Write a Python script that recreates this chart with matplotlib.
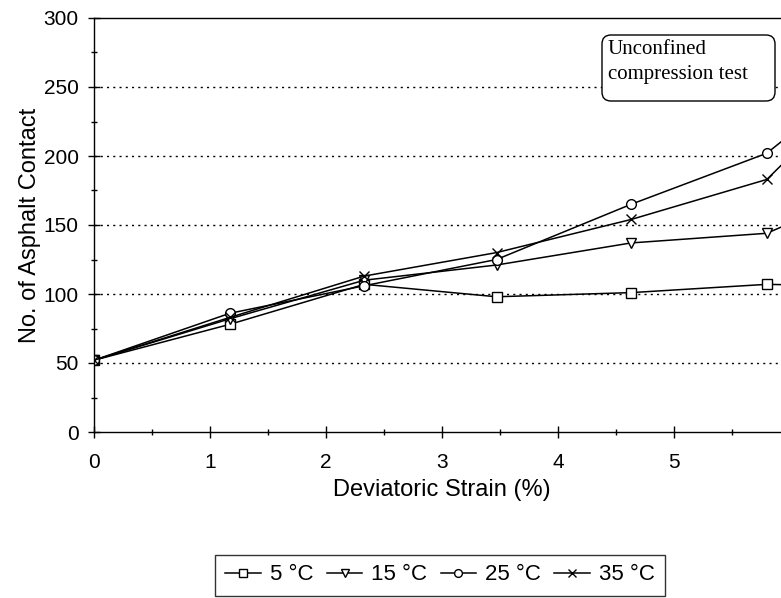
import matplotlib
matplotlib.use("Agg")
import matplotlib.pyplot as plt
from matplotlib.ticker import MultipleLocator
from matplotlib.patches import FancyBboxPatch

strain = [0, 1.17, 2.33, 3.47, 4.63, 5.80, 6.96]
t5 = [52, 78, 107, 98, 101, 107, 105]
t15 = [52, 82, 110, 121, 137, 144, 186]
t25 = [52, 86, 106, 125, 165, 202, 280]
t35 = [52, 83, 113, 130, 154, 183, 279]
labels = ["5 °C", "15 °C", "25 °C", "35 °C"]

plt.rcParams['font.family'] = ['Liberation Sans', 'DejaVu Sans']

W, H = 781, 598
fig = plt.figure(figsize=(W/100, H/100), dpi=100)
ax = fig.add_axes([94/W, 1-432/H, (790-94)/W, (432-18)/H])

series = [(t5, 's'), (t15, 'v'), (t25, 'o'), (t35, 'x')]
for (vals, m), lab in zip(series, labels):
    ax.plot(strain, vals, color='black', lw=1.1, marker=m, markersize=7,
            markerfacecolor='white', markeredgecolor='black', markeredgewidth=1.0,
            label=lab, clip_on=True)

ax.set_xlim(0, 6)
ax.set_ylim(0, 300)
ax.xaxis.set_major_locator(MultipleLocator(1))
ax.xaxis.set_minor_locator(MultipleLocator(0.5))
ax.yaxis.set_major_locator(MultipleLocator(50))
ax.yaxis.set_minor_locator(MultipleLocator(25))
ax.tick_params(which='major', direction='inout', length=8, width=1, labelsize=15, pad=11)
ax.tick_params(which='minor', direction='inout', length=5, width=1)
ax.tick_params(axis='y', which='major', pad=7)
for yv in [50, 100, 150, 200, 250]:
    ax.axhline(yv, color='black', lw=1.0, ls=(0, (1.5, 3)), zorder=0)
for s in ax.spines.values():
    s.set_linewidth(1.0)

ax.set_xlabel("Deviatoric Strain (%)", fontsize=17, labelpad=5)
ax.set_ylabel("No. of Asphalt Contact", fontsize=17, labelpad=2)

# annotation box (pixel coordinates of the figure)
box = FancyBboxPatch((602, H-101), 173, 66, boxstyle='round,pad=0,rounding_size=9',
                     transform=None, fc='white', ec='black', lw=1.0, zorder=5)
fig.patches.append(box)
serif = ['Liberation Serif', 'DejaVu Serif']
fig.text(608/W, 1-50/H, "Unconfined", family=serif, fontsize=15, va='center', ha='left', zorder=6)
fig.text(608/W, 1-75/H, "compression test", family=serif, fontsize=15, va='center', ha='left', zorder=6)

leg = fig.legend(loc='center', bbox_to_anchor=(440/W, 1-575/H), ncol=4,
                 fontsize=16, frameon=True, fancybox=False, edgecolor='black',
                 handlelength=1.6, handletextpad=0.4, columnspacing=0.6,
                 borderpad=0.45, markerscale=0.8)
leg.get_frame().set_linewidth(1.0)

fig.savefig("out.png", dpi=100)
